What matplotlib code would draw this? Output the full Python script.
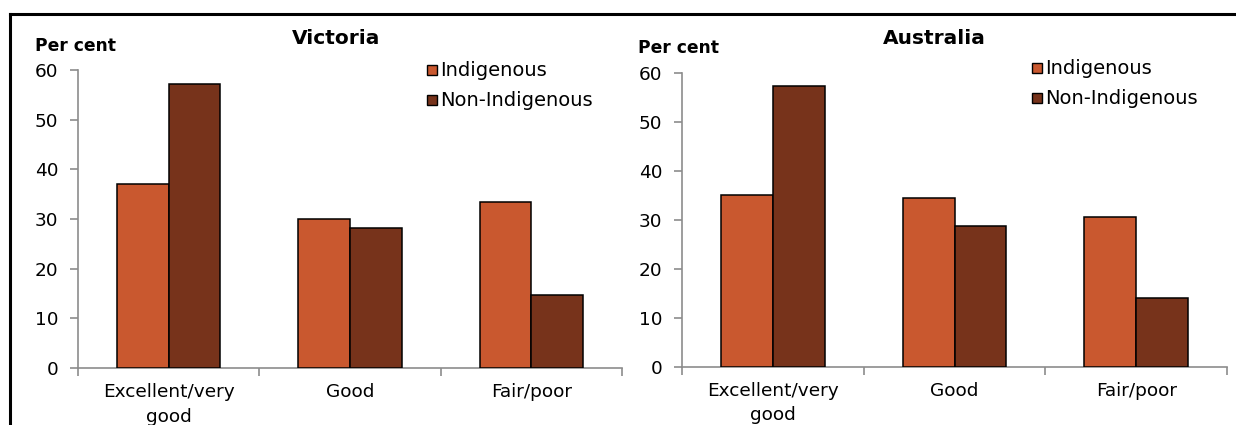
import matplotlib
matplotlib.use("Agg")
import matplotlib.pyplot as plt
from matplotlib.lines import Line2D
from matplotlib.patches import Rectangle
import numpy as np

plt.rcParams['font.family'] = ['DejaVu Sans']

categories = ["Excellent/very\ngood", "Good", "Fair/poor"]
series_names = ["Indigenous", "Non-Indigenous"]
vic_indigenous = [37.0, 29.9, 33.5]
vic_non_indigenous = [57.2, 28.2, 14.6]
aus_indigenous = [35.1, 34.4, 30.5]
aus_non_indigenous = [57.3, 28.7, 14.0]
yticks = [0, 10, 20, 30, 40, 50, 60]

col_ind = "#C9582F"
col_non = "#77331B"
axis_col = "#8C8C8C"

W, H = 1236, 425
fig = plt.figure(figsize=(W / 100, H / 100), dpi=100)

FS = 13.3

def px_axes(left, right, top, bottom):
    return fig.add_axes([left / W, (H - bottom) / H, (right - left) / W, (bottom - top) / H])

def draw_panel(ax, ind, non, title, title_x, pc_x, pc_y, leg_x, leg_y):
    x = np.arange(len(categories))
    w = 0.285
    ax.bar(x - w / 2, ind, w, color=col_ind, edgecolor="black", linewidth=1.1, zorder=3)
    ax.bar(x + w / 2, non, w, color=col_non, edgecolor="black", linewidth=1.1, zorder=3)
    ax.set_xlim(-0.5, len(categories) - 0.5)
    ax.set_ylim(0, 60)
    ax.set_yticks(yticks)
    ax.set_yticklabels([str(v) for v in yticks], fontsize=FS)
    ax.set_xticks(x)
    ax.set_xticklabels(categories, fontsize=FS, linespacing=1.45)
    ax.tick_params(axis='x', length=0, pad=11)
    ax.set_xticks(np.arange(-0.5, len(categories)), minor=True)
    ax.tick_params(axis='x', which='minor', length=6, color=axis_col, width=1.2, direction='out')
    ax.tick_params(axis='y', length=6, color=axis_col, width=1.2, direction='out', pad=8)
    for s in ['top', 'right']:
        ax.spines[s].set_visible(False)
    for s in ['left', 'bottom']:
        ax.spines[s].set_color(axis_col)
        ax.spines[s].set_linewidth(1.2)
    ax.patch.set_alpha(0)
    fig.text(title_x / W, (H - 38) / H, title, fontsize=14.5, fontweight='bold',
             ha='center', va='center')
    fig.text(pc_x / W, (H - pc_y) / H, "Per cent", fontsize=12.3, fontweight='bold',
             ha='left', va='center')
    # legend
    for i, (name, c) in enumerate(zip(series_names, [col_ind, col_non])):
        yc = leg_y + i * 30
        fig.patches.append(Rectangle((leg_x / W, (H - yc - 5) / H), 10 / W, 10 / H,
                                     transform=fig.transFigure, facecolor=c,
                                     edgecolor="black", linewidth=1.0))
        fig.text((leg_x + 13) / W, (H - yc) / H, name, fontsize=14,
                 ha='left', va='center')

ax1 = px_axes(78, 622, 70, 368)
draw_panel(ax1, vic_indigenous, vic_non_indigenous, "Victoria", 336, 35, 46, 427, 70)
ax2 = px_axes(682, 1227, 72.7, 366.7)
draw_panel(ax2, aus_indigenous, aus_non_indigenous, "Australia", 934, 638, 48, 1032, 68)

# outer frame lines (top and left)
fig.add_artist(Line2D([10 / W, 1.0], [(H - 14) / H, (H - 14) / H], transform=fig.transFigure,
                      color="black", linewidth=2.2))
fig.add_artist(Line2D([10 / W, 10 / W], [0, (H - 14) / H], transform=fig.transFigure,
                      color="black", linewidth=2.2))

fig.savefig("out.png", dpi=100)
